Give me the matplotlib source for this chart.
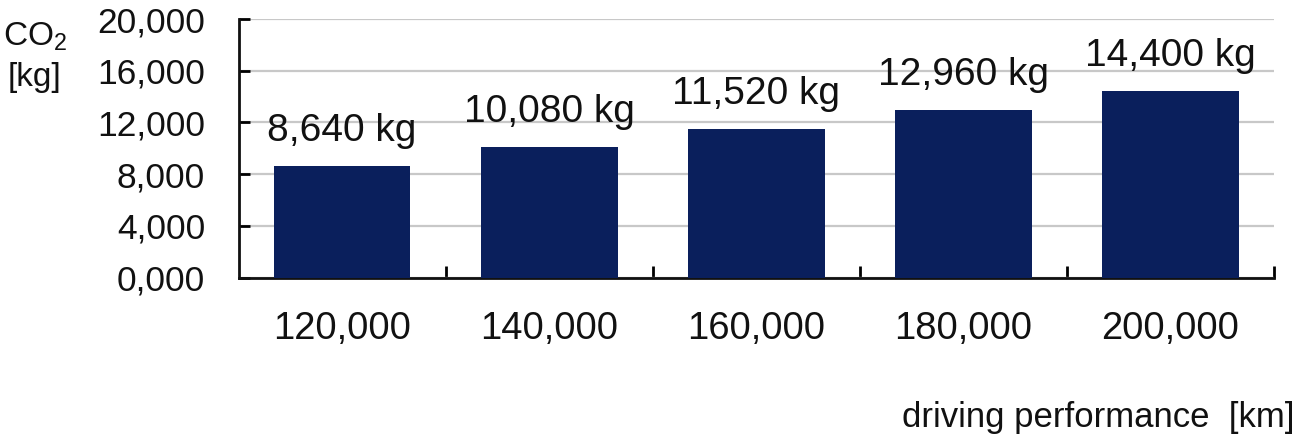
import matplotlib
matplotlib.use("Agg")
import matplotlib.pyplot as plt
from matplotlib.ticker import FixedLocator

plt.rcParams['font.family'] = ['Liberation Sans', 'DejaVu Sans']
plt.rcParams['mathtext.fontset'] = 'custom'
plt.rcParams['mathtext.rm'] = 'Liberation Sans'

# datos
categorias = ['120,000', '140,000', '160,000', '180,000', '200,000']
co2_kg = [8640, 10080, 11520, 12960, 14400]
etiquetas = ['8,640 kg', '10,080 kg', '11,520 kg', '12,960 kg', '14,400 kg']
y_ticks = [0, 4000, 8000, 12000, 16000, 20000]
y_tick_labels = ['0,000', '4,000', '8,000', '12,000', '16,000', '20,000']

fig = plt.figure(figsize=(13, 4.38), dpi=100)
ax = fig.add_axes([0.1835, 0.366, 0.7965, 0.5906])

x = list(range(len(categorias)))
ax.bar(x, co2_kg, width=0.66, color='#0a1f5c', zorder=3)

# etiquetas sobre las barras
for xi, v, t in zip(x, co2_kg, etiquetas):
    ax.annotate(t, (xi, v), xytext=(0, 18), textcoords='offset points',
                ha='center', va='baseline', fontsize=28, color='#111111')

ax.set_xlim(-0.5, len(categorias) - 0.5)
ax.set_ylim(0, 20000)
ax.set_yticks(y_ticks)
ax.set_yticklabels(y_tick_labels, fontsize=25.5, color='#111111')
ax.set_xticks(x)
ax.set_xticklabels(categorias, fontsize=27.5, color='#111111')
ax.xaxis.set_minor_locator(FixedLocator([i + 0.5 for i in range(len(categorias))]))

ax.tick_params(axis='x', which='major', length=0, pad=24)
ax.tick_params(axis='x', which='minor', direction='in', length=8.5, width=2)
ax.tick_params(axis='y', which='major', direction='in', length=8, width=2, pad=24)

ax.grid(axis='y', color='#c8c8c8', linewidth=1.6, zorder=0)
ax.set_axisbelow(True)
for s in ['top', 'right']:
    ax.spines[s].set_visible(False)
for s in ['left', 'bottom']:
    ax.spines[s].set_linewidth(2)
    ax.spines[s].set_color('#111111')

# títulos de ejes
fig.text(35 / 1300, 1 - 45 / 438, r'CO$_2$', ha='center', va='baseline', fontsize=24, color='#111111')
fig.text(35 / 1300, 1 - 86 / 438, '[kg]', ha='center', va='baseline', fontsize=24, color='#111111')
fig.text(1295 / 1300, 1 - 427 / 438, 'driving performance  [km]', ha='right', va='baseline',
         fontsize=25, color='#111111')

fig.savefig('out.png', dpi=100)
